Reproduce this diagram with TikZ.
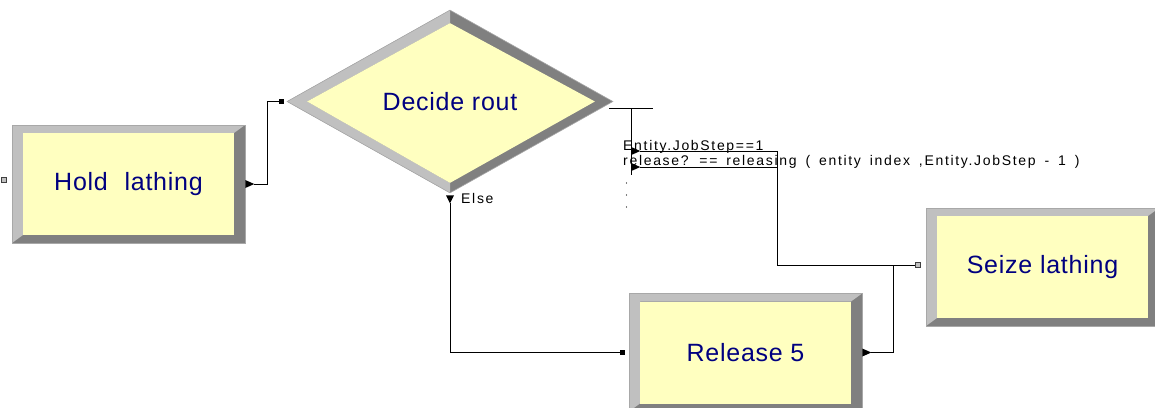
\documentclass[tikz,border=0pt]{standalone}
\usepackage{fontspec}
\setmainfont{Liberation Sans}
\newfontfamily\boxfont[LetterSpace=3]{Liberation Sans}
\newfontfamily\lblfont[LetterSpace=12,WordSpace=1.6]{Liberation Sans}
\usetikzlibrary{shapes.geometric}
\definecolor{boxfill}{HTML}{FFFFC0}
\definecolor{bevlight}{HTML}{C0C0C0}
\definecolor{bevdark}{HTML}{808080}
\definecolor{bevedge}{HTML}{A8A8A8}
\definecolor{navytext}{HTML}{000080}
\tikzset{
  module/.style={rectangle, minimum width=233pt, minimum height=118pt, inner sep=0pt,
    fill=bevdark, draw=bevedge, line width=0.6pt, text=navytext,
    font=\boxfont\fontsize{25}{30}\selectfont,
    path picture={
      \fill[bevlight] (path picture bounding box.north west) -- (path picture bounding box.north east)
        -- ([xshift=-11pt,yshift=-8pt]path picture bounding box.north east)
        -- ([xshift=11pt,yshift=-8pt]path picture bounding box.north west)
        -- ([xshift=11pt,yshift=8pt]path picture bounding box.south west)
        -- (path picture bounding box.south west) -- cycle;
      \fill[boxfill] ([xshift=11pt,yshift=-8pt]path picture bounding box.north west)
        rectangle ([xshift=-11pt,yshift=8pt]path picture bounding box.south east);
    }},
  decision/.style={diamond, minimum width=326pt, minimum height=183pt, inner sep=0pt,
    fill=bevdark, draw=bevedge, line width=0.6pt, text=navytext,
    font=\boxfont\fontsize{25}{30}\selectfont,
    path picture={
      \fill[bevlight] (path picture bounding box.west) -- (path picture bounding box.north)
        -- ([yshift=-13pt]path picture bounding box.north)
        -- ([xshift=20pt]path picture bounding box.west)
        -- ([yshift=10pt]path picture bounding box.south)
        -- (path picture bounding box.south) -- cycle;
      \fill[boxfill] ([yshift=-13pt]path picture bounding box.north)
        -- ([xshift=-18pt]path picture bounding box.east)
        -- ([yshift=10pt]path picture bounding box.south)
        -- ([xshift=20pt]path picture bounding box.west) -- cycle;
    }},
  sqblack/.style={rectangle, minimum size=5pt, inner sep=0pt, fill=black},
  sqgray/.style={rectangle, minimum size=5pt, inner sep=0pt, fill=bevlight, draw=black!75, line width=0.6pt},
  conn/.style={draw=black, line width=0.8pt},
  lbl/.style={inner sep=0pt, font=\lblfont\fontsize{14}{17}\selectfont, text=black},
  exittri/.style={fill=black}
}
\begin{document}
\begin{tikzpicture}[x=1pt,y=-1pt]
\useasboundingbox (0,0) rectangle (1155,407);
\node[module] (hold) at (128.5,184) {Hold\hspace*{9pt} lathing};
\node[decision] (decide) at (450,101.5) {Decide rout};
\node[module] (release) at (745.5,352.5) {Release 5};
\node[module] (seize) at (1042.5,267) {Seize lathing};
% entry points
\node[sqgray] (holdin) at ([xshift=-8pt,yshift=4pt]hold.west) {};
\node[sqblack] (decin) at ([xshift=-5pt]decide.west) {};
\node[sqblack] (relin) at ([xshift=-6pt]release.west) {};
\node[sqgray] (seizein) at ([xshift=-8pt,yshift=2pt]seize.west) {};
% hold exit
\coordinate (holdout) at ([xshift=9pt]hold.east);
\fill[exittri] ([yshift=4pt]hold.east) -- (holdout) -- ([yshift=-4pt]hold.east) -- cycle;
\draw[conn] (holdout) -- ++(13,0) |- (decin);
% else exit
\coordinate (elseout) at ([yshift=-10pt]decide.south);
\fill[exittri] ([xshift=-4pt,yshift=-2pt]decide.south) -- ([xshift=4pt,yshift=-2pt]decide.south) -- (elseout) -- cycle;
\draw[conn] (elseout) |- (relin);
\node[lbl, anchor=base west] (elsetext) at ([xshift=11pt,yshift=-10pt]decide.south) {Else};
% condition exits
\coordinate (bar) at ([xshift=18pt,yshift=-6.5pt]decide.east);
\draw[conn] ([xshift=-4pt,yshift=-6.5pt]decide.east) -- ++(44,0);
\draw[conn] (bar) -- ++(0,67);
\coordinate (ex1) at ([yshift=-43pt]bar);
\coordinate (ex2) at ([yshift=-59pt]bar);
\fill[exittri] ([yshift=4pt]ex1) -- ([xshift=9pt]ex1) -- ([yshift=-4pt]ex1) -- cycle;
\fill[exittri] ([yshift=4pt]ex2) -- ([xshift=9pt]ex2) -- ([yshift=-4pt]ex2) -- cycle;
\draw[conn] ([xshift=9pt]ex1) -- ++(137,0) |- (seizein);
\draw[conn] ([xshift=9pt]ex2) -- ++(137,0);
\node[lbl, anchor=base west] (cond1) at (623,150) {Entity.JobStep==1};
\node[lbl, anchor=base west] (cond2) at (623,165) {release? == releasing ( entity index ,Entity.JobStep - 1 )};
\fill (626.5,183) circle (0.7);
\fill (626.5,195) circle (0.7);
\fill (626.5,207) circle (0.7);
% release exit
\coordinate (relout) at ([xshift=9pt]release.east);
\fill[exittri] ([yshift=4pt]release.east) -- (relout) -- ([yshift=-4pt]release.east) -- cycle;
\draw[conn] (relout) -- ++(22,0) |- (seizein);
\end{tikzpicture}
\end{document}
